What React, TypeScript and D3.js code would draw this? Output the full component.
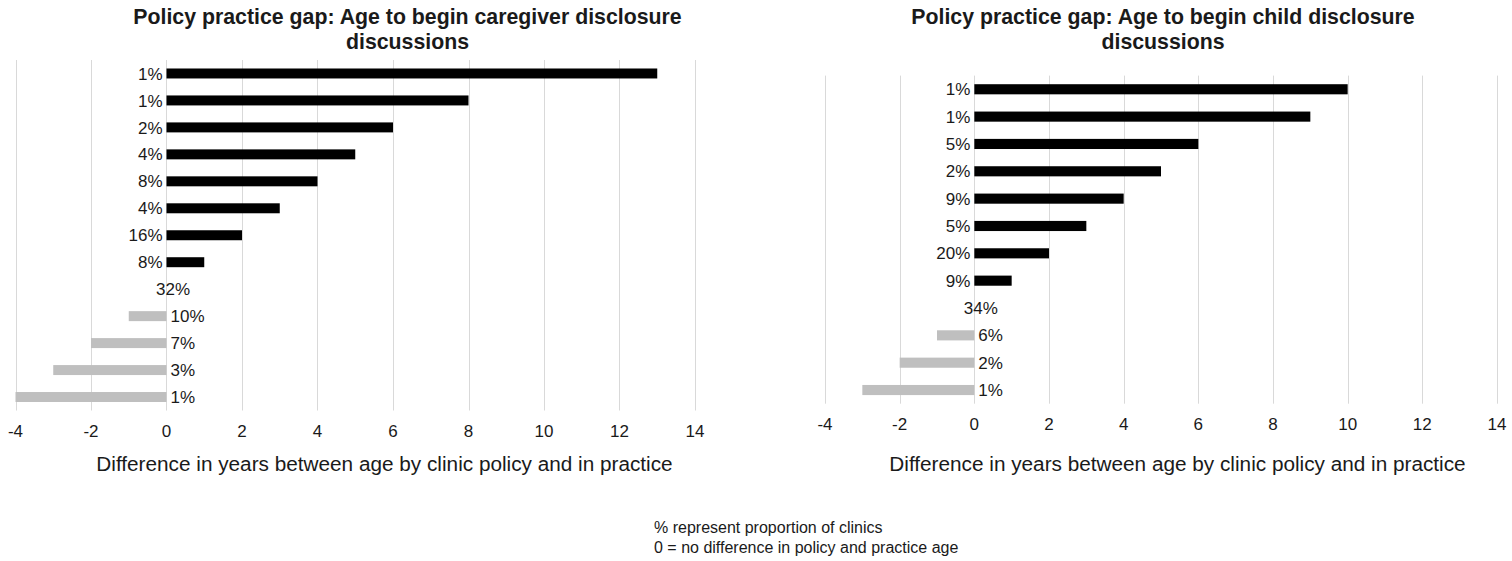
import React from "react";
import * as d3 from "d3";

// Gap in years between the age set by clinic policy and the age used in practice
const caregiverGaps = [13, 8, 6, 5, 4, 3, 2, 1, 0, -1, -2, -3, -4];
const caregiverShares = ["1%", "1%", "2%", "4%", "8%", "4%", "16%", "8%", "32%", "10%", "7%", "3%", "1%"];

const childGaps = [10, 9, 6, 5, 4, 3, 2, 1, 0, -1, -2, -3];
const childShares = ["1%", "1%", "5%", "2%", "9%", "5%", "20%", "9%", "34%", "6%", "2%", "1%"];

const xTicks = [-4, -2, 0, 2, 4, 6, 8, 10, 12, 14];
const xDomain: [number, number] = [-4, 14];

const axisTitle = "Difference in years between age by clinic policy and in practice";
const footnotes = ["% represent proportion of clinics", "0 = no difference in policy and practice age"];

const FONT = "'Liberation Sans', Arial, Helvetica, sans-serif";
const POS_COLOR = "#000000";
const NEG_COLOR = "#bfbfbf";
const GRID_COLOR = "#d9d9d9";
const TEXT_COLOR = "#1a1a1a";

type PanelProps = {
  titleLines: string[];
  titleX: number;
  gaps: number[];
  shares: string[];
  x0: number;
  x1: number;
  y0: number;
  y1: number;
  axisTitleX: number;
};

function Panel({ titleLines, titleX, gaps, shares, x0, x1, y0, y1, axisTitleX }: PanelProps) {
  const x = d3.scaleLinear().domain(xDomain).range([x0, x1]);
  const rows = gaps.map((_, i) => String(i));
  const y = d3
    .scaleBand<string>()
    .domain(rows)
    .range([y0, y1])
    .paddingInner(0.63)
    .paddingOuter(0.315);
  const zero = x(0);

  return (
    <g>
      {titleLines.map((line, i) => (
        <text
          key={i}
          x={titleX}
          y={24 + i * 25}
          textAnchor="middle"
          fontFamily={FONT}
          fontWeight="bold"
          fontSize={21.3}
          fill={TEXT_COLOR}
        >
          {line}
        </text>
      ))}

      {xTicks.map((t) => (
        <line
          key={"g" + t}
          x1={Math.round(x(t)) + 0.5}
          x2={Math.round(x(t)) + 0.5}
          y1={y0}
          y2={y1}
          stroke={GRID_COLOR}
          strokeWidth={1}
        />
      ))}

      {gaps.map((v, i) => {
        const yy = y(String(i)) as number;
        const left = Math.min(x(v), zero);
        const w = Math.abs(x(v) - zero);
        return (
          <rect
            key={"b" + i}
            x={left}
            y={yy}
            width={w}
            height={y.bandwidth()}
            fill={v >= 0 ? POS_COLOR : NEG_COLOR}
          />
        );
      })}

      {gaps.map((v, i) => {
        const cy = (y(String(i)) as number) + y.bandwidth() / 2;
        let tx = zero - 4;
        let anchor: "end" | "start" | "middle" = "end";
        if (v < 0) {
          tx = zero + 4;
          anchor = "start";
        } else if (v === 0) {
          tx = zero + 6.5;
          anchor = "middle";
        }
        return (
          <text
            key={"l" + i}
            x={tx}
            y={cy}
            dy="0.36em"
            textAnchor={anchor}
            fontFamily={FONT}
            fontSize={17}
            fill={TEXT_COLOR}
          >
            {shares[i]}
          </text>
        );
      })}

      {xTicks.map((t) => (
        <text
          key={"t" + t}
          x={x(t)}
          y={y1 + 26.5}
          textAnchor="middle"
          fontFamily={FONT}
          fontSize={17}
          fill={TEXT_COLOR}
        >
          {t}
        </text>
      ))}

      <text
        x={axisTitleX}
        y={471}
        textAnchor="middle"
        fontFamily={FONT}
        fontSize={20.75}
        fill={TEXT_COLOR}
      >
        {axisTitle}
      </text>
    </g>
  );
}

export default function App() {
  return (
    <svg
      width={1512}
      height={561}
      style={{ position: "absolute", left: 0, top: 0, background: "#ffffff" }}
    >
      <Panel
        titleLines={["Policy practice gap: Age to begin caregiver disclosure", "discussions"]}
        titleX={407.5}
        gaps={caregiverGaps}
        shares={caregiverShares}
        x0={15.5}
        x1={695}
        y0={60}
        y1={410.5}
        axisTitleX={384.5}
      />
      <Panel
        titleLines={["Policy practice gap: Age to begin child disclosure", "discussions"]}
        titleX={1163}
        gaps={childGaps}
        shares={childShares}
        x0={825}
        x1={1497}
        y0={75.6}
        y1={403.7}
        axisTitleX={1177.5}
      />
      {footnotes.map((line, i) => (
        <text
          key={i}
          x={654}
          y={533 + i * 20}
          fontFamily={FONT}
          fontSize={16}
          fill={TEXT_COLOR}
        >
          {line}
        </text>
      ))}
    </svg>
  );
}
